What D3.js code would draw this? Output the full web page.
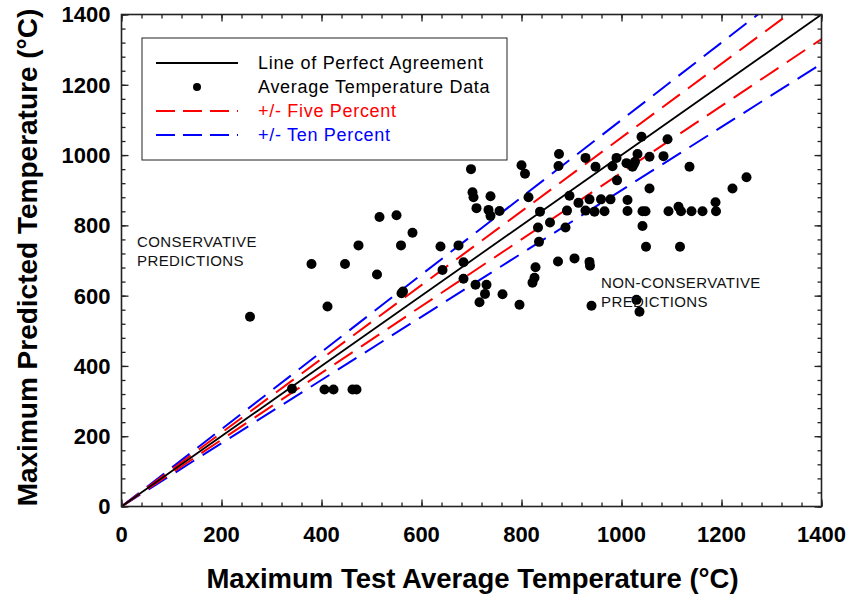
<!DOCTYPE html>
<html>
<head>
<meta charset="utf-8">
<script src="https://cdn.jsdelivr.net/npm/d3@7"></script>
<style>
  body { margin: 0; background: #fff; }
  svg { display: block; font-family: "Liberation Sans", Arial, sans-serif; }
</style>
</head>
<body>
<svg id="chart" width="851" height="597"></svg>
<script>
// Measured vs predicted maximum temperatures (°C)
const testTemp = [
  257, 380, 412, 447, 474, 516, 550, 511, 559, 582, 560, 563, 638, 674, 642, 684, 684, 699,
  341, 406, 424, 462, 470, 702, 704, 710, 738, 734, 738, 756, 800, 807, 814, 837, 875, 874,
  896, 914, 891, 928, 948, 936, 928, 946, 966, 959, 978, 990, 982, 991, 1010, 1025, 1032,
  1012, 1012, 833, 835, 857, 888, 708, 730, 727, 716, 762, 796, 828, 826, 822, 873, 906,
  936, 937, 940, 1030, 1036, 1040, 1092, 1022, 1027, 1056, 1084, 1136, 1056, 1222, 1250,
  1042, 1048, 1094, 1114, 1119, 1140, 1162, 1188, 1189, 1042, 1049, 1117
];
const predictedTemp = [
  540, 690, 569, 690, 743, 824, 829, 660, 743, 779, 607, 612, 740, 743, 673, 695, 648, 960,
  335, 333, 333, 333, 333, 894, 880, 849, 883, 844, 827, 841, 971, 947, 880, 839, 1003, 969,
  884, 864, 842, 992, 967, 874, 842, 839, 840, 874, 874, 992, 968, 928, 977, 975, 1003,
  872, 841, 794, 753, 808, 794, 631, 631, 605, 581, 604, 574, 681, 651, 637, 697, 706,
  696, 685, 571, 588, 554, 1052, 1045, 967, 981, 995, 997, 967, 905, 905, 937,
  840, 840, 840, 853, 840, 840, 840, 866, 840, 798, 739, 739
];

// Reference lines: predicted = factor × measured
const refLines = [
  { label: "Line of Perfect Agreement", factors: [1.0], color: "#000000", dash: null },
  { label: "+/- Five Percent", factors: [1.05, 0.95], color: "#ff0000", dash: "22,10" },
  { label: "+/- Ten Percent", factors: [1.10, 0.90], color: "#0000ff", dash: "22,10" }
];

const xTicks = [0, 200, 400, 600, 800, 1000, 1200, 1400];
const yTicks = [0, 200, 400, 600, 800, 1000, 1200, 1400];

const svg = d3.select("#chart");
const margin = { left: 121.5, top: 14.5, right: 851 - 821.5, bottom: 597 - 506.5 };
const W = 851 - margin.left - margin.right;
const H = 597 - margin.top - margin.bottom;

const x = d3.scaleLinear().domain([0, 1400]).range([0, W]);
const y = d3.scaleLinear().domain([0, 1400]).range([H, 0]);

const g = svg.append("g").attr("transform", `translate(${margin.left},${margin.top})`);

svg.append("defs").append("clipPath").attr("id", "plotClip")
  .append("rect").attr("width", W).attr("height", H);

// Reference lines
const lineGen = d3.line().x(d => x(d[0])).y(d => y(d[1]));
const linesG = g.append("g").attr("clip-path", "url(#plotClip)");
refLines.slice().reverse().forEach(r => {
  r.factors.forEach(f => {
    linesG.append("path")
      .attr("d", lineGen([[0, 0], [1400, 1400 * f]]))
      .attr("fill", "none")
      .attr("stroke", r.color)
      .attr("stroke-width", r.dash ? 2 : 1.8)
      .attr("stroke-dasharray", r.dash);
  });
});

// Data points
g.append("g").selectAll("circle")
  .data(testTemp.map((t, i) => [t, predictedTemp[i]]))
  .join("circle")
  .attr("cx", d => x(d[0]))
  .attr("cy", d => y(d[1]))
  .attr("r", 5)
  .attr("fill", "#000");

// Axes: inward ticks on all four sides
const xMinor = d3.range(0, 1401, 40);
const yMinor = d3.range(0, 1401, 40);
function tickAxis(axisFn, scale, ticks, len) {
  return axisFn(scale).tickValues(ticks).tickSize(len).tickFormat("");
}
const axisColor = "#222";
const axes = g.append("g").attr("class", "axes");
// minor
axes.append("g").attr("transform", `translate(0,${H})`).call(tickAxis(d3.axisTop, x, xMinor, 4));
axes.append("g").call(tickAxis(d3.axisBottom, x, xMinor, 4));
axes.append("g").call(tickAxis(d3.axisRight, y, yMinor, 4));
axes.append("g").attr("transform", `translate(${W},0)`).call(tickAxis(d3.axisLeft, y, yMinor, 4));
// major
axes.append("g").attr("transform", `translate(0,${H})`).call(tickAxis(d3.axisTop, x, xTicks, 7));
axes.append("g").call(tickAxis(d3.axisBottom, x, xTicks, 7));
axes.append("g").call(tickAxis(d3.axisRight, y, yTicks, 7));
axes.append("g").attr("transform", `translate(${W},0)`).call(tickAxis(d3.axisLeft, y, yTicks, 7));
axes.selectAll(".domain").remove();
axes.selectAll("line").attr("stroke", axisColor).attr("stroke-width", 1.3);

g.append("rect").attr("width", W).attr("height", H)
  .attr("fill", "none").attr("stroke", axisColor).attr("stroke-width", 1.6);

// Tick labels
g.append("g").selectAll("text").data(xTicks).join("text")
  .attr("x", d => x(d)).attr("y", H + 35)
  .attr("text-anchor", "middle")
  .attr("font-size", 22).attr("font-weight", "bold")
  .text(d => d);
g.append("g").selectAll("text").data(yTicks).join("text")
  .attr("x", -11).attr("y", d => y(d)).attr("dy", "0.36em")
  .attr("text-anchor", "end")
  .attr("font-size", 22).attr("font-weight", "bold")
  .text(d => d);

// Axis titles
svg.append("text")
  .attr("x", margin.left + W / 2 + 1).attr("y", 588)
  .attr("text-anchor", "middle")
  .attr("font-size", 27.5).attr("font-weight", "bold")
  .text("Maximum Test Average Temperature (°C)");
svg.append("text")
  .attr("transform", `translate(37,${margin.top + H / 2 - 3}) rotate(-90)`)
  .attr("text-anchor", "middle")
  .attr("font-size", 28).attr("font-weight", "bold")
  .text("Maximum Predicted Temperature (°C)");

// Region annotations
const notes = [
  { x: 137, y: 247, lines: ["CONSERVATIVE", "PREDICTIONS"] },
  { x: 601, y: 288, lines: ["NON-CONSERVATIVE", "PREDICTIONS"] }
];
notes.forEach(n => {
  const t = svg.append("text").attr("x", n.x).attr("y", n.y)
    .attr("font-size", 15).attr("letter-spacing", 0.4).attr("fill", "#111");
  n.lines.forEach((s, i) => t.append("tspan").attr("x", n.x).attr("dy", i ? 19 : 0).text(s));
});

// Legend
const lg = svg.append("g").attr("transform", "translate(142,38)");
lg.append("rect").attr("width", 365).attr("height", 122)
  .attr("fill", "#fff").attr("stroke", "#222").attr("stroke-width", 1);
const legendItems = [
  { label: refLines[0].label, type: "line", color: "#000", dash: null, text: "#000" },
  { label: "Average Temperature Data", type: "dot", color: "#000", text: "#000" },
  { label: refLines[1].label, type: "line", color: refLines[1].color, dash: "19,8", text: refLines[1].color },
  { label: refLines[2].label, type: "line", color: refLines[2].color, dash: "19,8", text: refLines[2].color }
];
legendItems.forEach((it, i) => {
  const cy = 25 + i * 24;
  if (it.type === "line") {
    lg.append("line").attr("x1", 14).attr("x2", 96).attr("y1", cy).attr("y2", cy)
      .attr("stroke", it.color).attr("stroke-width", 2).attr("stroke-dasharray", it.dash);
  } else {
    lg.append("circle").attr("cx", 55).attr("cy", cy).attr("r", 4).attr("fill", it.color);
  }
  lg.append("text").attr("x", 116).attr("y", cy).attr("dy", "0.35em")
    .attr("font-size", 18).attr("letter-spacing", 0.7).attr("fill", it.text).text(it.label);
});
</script>
</body>
</html>
